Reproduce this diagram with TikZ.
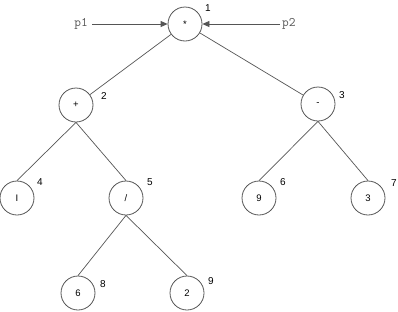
\documentclass[tikz,border=0pt]{standalone}
\usepackage{fontspec}
\setmainfont{Liberation Sans}
\usetikzlibrary{arrows.meta}
\definecolor{ln}{HTML}{555555}
\begin{document}
\begin{tikzpicture}[x=1pt,y=-1pt,
  tnode/.style={circle,draw=ln,line width=0.8pt,minimum size=34pt,inner sep=0pt,font=\fontsize{9.5}{9.5}\selectfont},
  idx/.style={font=\fontsize{10}{10}\selectfont,inner sep=0pt},
  edge/.style={draw=ln,line width=0.7pt},
  ptr/.style={draw=ln,line width=0.8pt,-{Triangle[length=7pt,width=6pt]}},
  ptext/.style={font=\ttfamily\fontsize{13}{13}\selectfont,text=ln,inner sep=0pt}]
\useasboundingbox (0,0) rectangle (398,311);
\node[tnode] (n1) at (185,24) {*};
\node[tnode] (n2) at (76,105) {+};
\node[tnode] (n3) at (318,104) {-};
\node[tnode] (n4) at (17,198) {I};
\node[tnode] (n5) at (126,198) {/};
\node[tnode] (n6) at (259,198) {9};
\node[tnode] (n7) at (368,198) {3};
\node[tnode] (n8) at (78,293) {6};
\node[tnode] (n9) at (187,293) {2};
\node[idx] (l1) at (208,8) {1};
\node[idx] (l2) at (104,96) {2};
\node[idx] (l3) at (342,95) {3};
\node[idx] (l4) at (40,182) {4};
\node[idx] (l5) at (150,182) {5};
\node[idx] (l6) at (283,182) {6};
\node[idx] (l7) at (394,183) {7};
\node[idx] (l8) at (103,284) {8};
\node[idx] (l9) at (211,281) {9};
\node[ptext,anchor=east] (p1) at (88,24) {p1};
\node[ptext,anchor=west] (p2) at (282,24) {p2};
\draw[ptr] (p1.east) ++(4,0) -- (n1.west);
\draw[ptr] (p2.west) ++(-2,0) -- (n1.east);
\draw[edge] (n1) -- (n2);
\draw[edge] (n1) -- (n3);
\draw[edge] (n2.south) -- (n4.north);
\draw[edge] (n2.south) -- (n5.north);
\draw[edge] (n3.south) -- (n6.north);
\draw[edge] (n3.south) -- (n7.north);
\draw[edge] (n5.south) -- (n8.north);
\draw[edge] (n5.south) -- (n9.north);
\end{tikzpicture}
\end{document}
